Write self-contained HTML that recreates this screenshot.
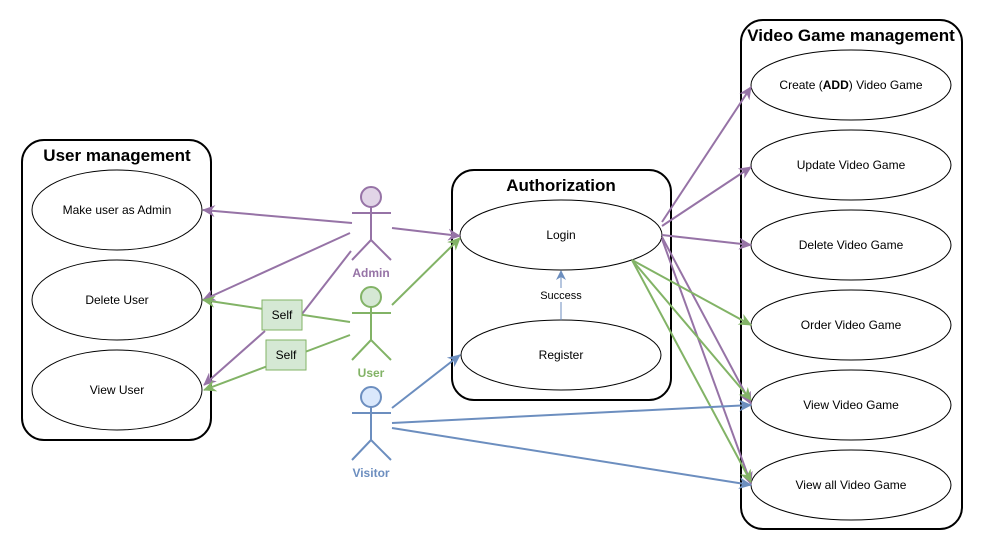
<!DOCTYPE html>
<html><head><meta charset="utf-8"><style>
html,body{margin:0;padding:0;background:#fff;}
svg{display:block;font-family:"Liberation Sans",Arial,sans-serif;}
</style></head><body>
<svg width="982" height="553" viewBox="0 0 982 553" xmlns="http://www.w3.org/2000/svg">
<defs>
<marker id="ap" markerWidth="13" markerHeight="12" refX="12" refY="6" orient="auto" markerUnits="userSpaceOnUse"><path d="M0,0 L13,6 L0,12 L4,6 z" fill="#9673a6"/></marker>
<marker id="ag" markerWidth="13" markerHeight="12" refX="12" refY="6" orient="auto" markerUnits="userSpaceOnUse"><path d="M0,0 L13,6 L0,12 L4,6 z" fill="#82b366"/></marker>
<marker id="ab" markerWidth="13" markerHeight="12" refX="12" refY="6" orient="auto" markerUnits="userSpaceOnUse"><path d="M0,0 L13,6 L0,12 L4,6 z" fill="#6c8ebf"/></marker>
<marker id="abs" markerWidth="10" markerHeight="10" refX="9" refY="5" orient="auto" markerUnits="userSpaceOnUse"><path d="M0,0 L10,5 L0,10 L3,5 z" fill="#6c8ebf"/></marker>
</defs>
<rect x="22" y="140" width="189" height="300" rx="22" fill="#fff" stroke="#000" stroke-width="2"/>
<text x="117" y="161" font-size="17" font-weight="bold" text-anchor="middle">User management</text>
<rect x="452" y="170" width="219" height="230" rx="22" fill="#fff" stroke="#000" stroke-width="2"/>
<text x="561" y="191" font-size="17" font-weight="bold" text-anchor="middle">Authorization</text>
<rect x="741" y="20" width="221" height="509" rx="22" fill="#fff" stroke="#000" stroke-width="2"/>
<text x="851" y="41" font-size="17" font-weight="bold" text-anchor="middle">Video Game management</text>
<g fill="#fff" stroke="#000" stroke-width="1">
<ellipse cx="117" cy="210" rx="85" ry="40"/>
<ellipse cx="117" cy="300" rx="85" ry="40"/>
<ellipse cx="117" cy="390" rx="85" ry="40"/>
<ellipse cx="561" cy="235" rx="101" ry="35"/>
<ellipse cx="561" cy="355" rx="100" ry="35"/>
<ellipse cx="851" cy="85" rx="100" ry="35"/>
<ellipse cx="851" cy="165" rx="100" ry="35"/>
<ellipse cx="851" cy="245" rx="100" ry="35"/>
<ellipse cx="851" cy="325" rx="100" ry="35"/>
<ellipse cx="851" cy="405" rx="100" ry="35"/>
<ellipse cx="851" cy="485" rx="100" ry="35"/>
</g>
<g font-size="12" text-anchor="middle">
<text x="117" y="214">Make user as Admin</text>
<text x="117" y="304">Delete User</text>
<text x="117" y="394">View User</text>
<text x="561" y="239">Login</text>
<text x="561" y="359">Register</text>
<text x="851" y="89">Create (<tspan font-weight="bold">ADD</tspan>) Video Game</text>
<text x="851" y="169">Update Video Game</text>
<text x="851" y="249">Delete Video Game</text>
<text x="851" y="329">Order Video Game</text>
<text x="851" y="409">View Video Game</text>
<text x="851" y="489">View all Video Game</text>
</g>
<line x1="561" y1="320" x2="561" y2="271" stroke="#6c8ebf" stroke-width="1" marker-end="url(#abs)"/>
<rect x="538" y="288" width="46" height="14" fill="#fff"/>
<text x="561" y="299" font-size="11" text-anchor="middle">Success</text>
<g stroke="#9673a6" stroke-width="2" fill="none">
<line x1="352" y1="223" x2="203" y2="210" marker-end="url(#ap)"/>
<line x1="350" y1="233" x2="203" y2="300" marker-end="url(#ap)"/>
<line x1="351" y1="251" x2="302" y2="314"/>
<line x1="265" y1="331" x2="204" y2="385" marker-end="url(#ap)"/>
<line x1="392" y1="228" x2="460" y2="236" marker-end="url(#ap)"/>
<line x1="662" y1="222" x2="751" y2="87" marker-end="url(#ap)"/>
<line x1="662" y1="226" x2="751" y2="167" marker-end="url(#ap)"/>
<line x1="662" y1="235" x2="751" y2="245" marker-end="url(#ap)"/>
<line x1="662" y1="237" x2="751" y2="404" marker-end="url(#ap)"/>
<line x1="662" y1="239" x2="751" y2="484" marker-end="url(#ap)"/>
</g>
<g stroke="#82b366" stroke-width="2" fill="none">
<line x1="350" y1="322" x2="203" y2="300" marker-end="url(#ag)"/>
<line x1="350" y1="335" x2="204" y2="390" marker-end="url(#ag)"/>
<line x1="392" y1="305" x2="460" y2="238" marker-end="url(#ag)"/>
<line x1="632" y1="260" x2="751" y2="325" marker-end="url(#ag)"/>
<line x1="632" y1="260" x2="751" y2="400" marker-end="url(#ag)"/>
<line x1="632" y1="260" x2="751" y2="482" marker-end="url(#ag)"/>
</g>
<g stroke="#6c8ebf" stroke-width="2" fill="none">
<line x1="392" y1="408" x2="460" y2="355" marker-end="url(#ab)"/>
<line x1="392" y1="423" x2="751" y2="405" marker-end="url(#ab)"/>
<line x1="392" y1="428" x2="751" y2="485" marker-end="url(#ab)"/>
</g>
<rect x="262" y="300" width="40" height="30" fill="#d5e8d4" stroke="#82b366"/>
<text x="282" y="319" font-size="12" text-anchor="middle">Self</text>
<rect x="266" y="340" width="40" height="30" fill="#d5e8d4" stroke="#82b366"/>
<text x="286" y="359" font-size="12" text-anchor="middle">Self</text>
<g stroke="#9673a6" stroke-width="2" fill="#e1d5e7">
<circle cx="371" cy="197" r="10"/>
<path d="M371,207 V240 M352,213 H391 M371,240 L352,260 M371,240 L391,260" fill="none"/>
</g>
<text x="371" y="277" font-size="12" font-weight="bold" fill="#9673a6" text-anchor="middle">Admin</text>
<g stroke="#82b366" stroke-width="2" fill="#d5e8d4">
<circle cx="371" cy="297" r="10"/>
<path d="M371,307 V340 M352,313 H391 M371,340 L352,360 M371,340 L391,360" fill="none"/>
</g>
<text x="371" y="377" font-size="12" font-weight="bold" fill="#82b366" text-anchor="middle">User</text>
<g stroke="#6c8ebf" stroke-width="2" fill="#dae8fc">
<circle cx="371" cy="397" r="10"/>
<path d="M371,407 V440 M352,413 H391 M371,440 L352,460 M371,440 L391,460" fill="none"/>
</g>
<text x="371" y="477" font-size="12" font-weight="bold" fill="#6c8ebf" text-anchor="middle">Visitor</text>
</svg>
</body></html>
